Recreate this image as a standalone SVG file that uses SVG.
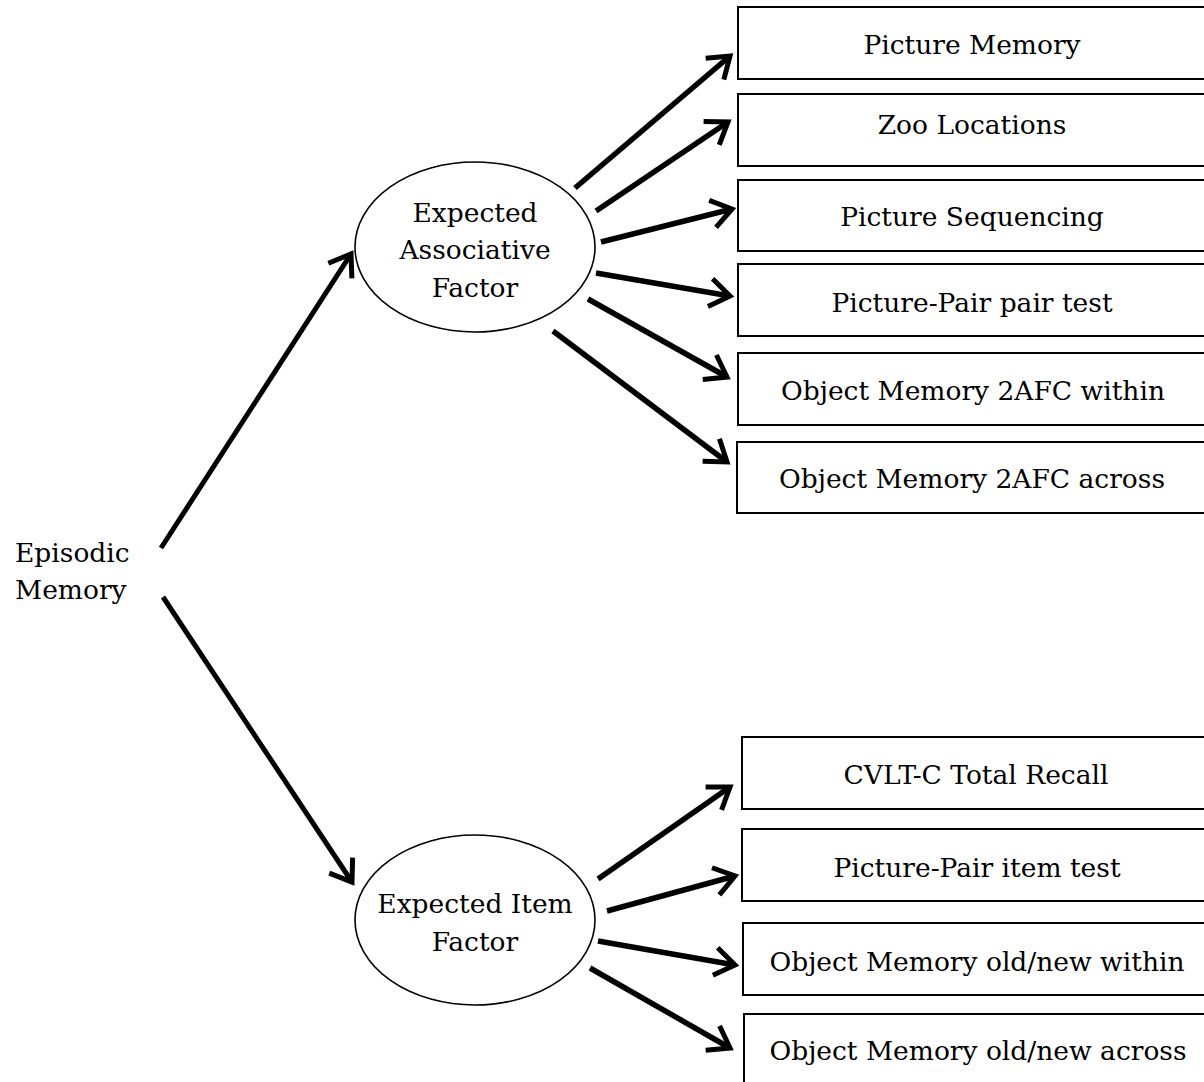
<svg xmlns="http://www.w3.org/2000/svg" width="1204" height="1082" viewBox="0 0 1204 1082">
<style>
  .lbl { font-family: "DejaVu Serif", "Liberation Serif", serif; font-size: 26.5px; fill: #000; }
  .mid { text-anchor: middle; }
  .box { fill: #fff; stroke: #000; stroke-width: 2; }
  .ell { fill: #fff; stroke: #000; stroke-width: 1.6; }
  .conn { stroke: #000; stroke-width: 5.5; fill: none; marker-end: url(#arr); }
  .main { stroke-width: 5; }
</style>
<defs>
  <marker id="arr" markerUnits="userSpaceOnUse" viewBox="-28 -18 36 36" markerWidth="36" markerHeight="36" refX="0" refY="0" orient="auto">
    <path d="M -20 -14 L 0 0 L -20 14" fill="none" stroke="#000" stroke-width="5" stroke-linejoin="miter" stroke-linecap="butt"/>
  </marker>
</defs>
<rect width="1204" height="1082" fill="#fff"/>

<g id="connectors">
  <line class="conn main" x1="161" y1="548" x2="351" y2="254"/>
  <line class="conn main" x1="163" y1="597" x2="352" y2="882"/>
  <line class="conn" x1="575" y1="188" x2="730" y2="56"/>
  <line class="conn" x1="596" y1="211" x2="728" y2="122"/>
  <line class="conn" x1="601" y1="242" x2="732" y2="209"/>
  <line class="conn" x1="596" y1="273" x2="730" y2="296"/>
  <line class="conn" x1="588" y1="299" x2="727" y2="377"/>
  <line class="conn" x1="553" y1="331" x2="727" y2="462"/>
  <line class="conn" x1="598" y1="879" x2="730" y2="787"/>
  <line class="conn" x1="607" y1="911" x2="735" y2="876"/>
  <line class="conn" x1="598" y1="941" x2="735" y2="965"/>
  <line class="conn" x1="590" y1="968" x2="730" y2="1048"/>
</g>

<g id="episodic">
  <text class="lbl" x="15" y="562">Episodic</text>
  <text class="lbl" x="15" y="599">Memory</text>
</g>

<g id="assoc">
  <ellipse class="ell" cx="475" cy="247" rx="120" ry="85"/>
  <text class="lbl mid" x="475" y="222">Expected</text>
  <text class="lbl mid" x="475" y="259">Associative</text>
  <text class="lbl mid" x="475" y="297">Factor</text>
</g>

<g id="item">
  <ellipse class="ell" cx="475" cy="920" rx="120" ry="85"/>
  <text class="lbl mid" x="475" y="913">Expected Item</text>
  <text class="lbl mid" x="475" y="951">Factor</text>
</g>

<g id="picture-memory">
  <rect class="box" x="738" y="7" width="470" height="72"/>
  <text class="lbl mid" x="972" y="54">Picture Memory</text>
</g>
<g id="zoo-locations">
  <rect class="box" x="738" y="94" width="470" height="72"/>
  <text class="lbl mid" x="972" y="134">Zoo Locations</text>
</g>
<g id="picture-sequencing">
  <rect class="box" x="738" y="180" width="470" height="71"/>
  <text class="lbl mid" x="972" y="226">Picture Sequencing</text>
</g>
<g id="pp-pair">
  <rect class="box" x="738" y="264" width="470" height="72"/>
  <text class="lbl mid" x="972" y="312">Picture-Pair pair test</text>
</g>
<g id="om-2afc-within">
  <rect class="box" x="738" y="353" width="470" height="72"/>
  <text class="lbl mid" x="973" y="400">Object Memory 2AFC within</text>
</g>
<g id="om-2afc-across">
  <rect class="box" x="737" y="442" width="470" height="71"/>
  <text class="lbl mid" x="972" y="488">Object Memory 2AFC across</text>
</g>

<g id="cvlt">
  <rect class="box" x="742" y="737" width="470" height="72"/>
  <text class="lbl mid" x="976" y="784">CVLT-C Total Recall</text>
</g>
<g id="pp-item">
  <rect class="box" x="742" y="829" width="470" height="72"/>
  <text class="lbl mid" x="977" y="877">Picture-Pair item test</text>
</g>
<g id="om-oldnew-within">
  <rect class="box" x="743" y="923" width="470" height="72"/>
  <text class="lbl mid" x="977" y="971">Object Memory old/new within</text>
</g>
<g id="om-oldnew-across">
  <rect class="box" x="744" y="1014" width="470" height="90"/>
  <text class="lbl mid" x="978" y="1060">Object Memory old/new across</text>
</g>
</svg>
